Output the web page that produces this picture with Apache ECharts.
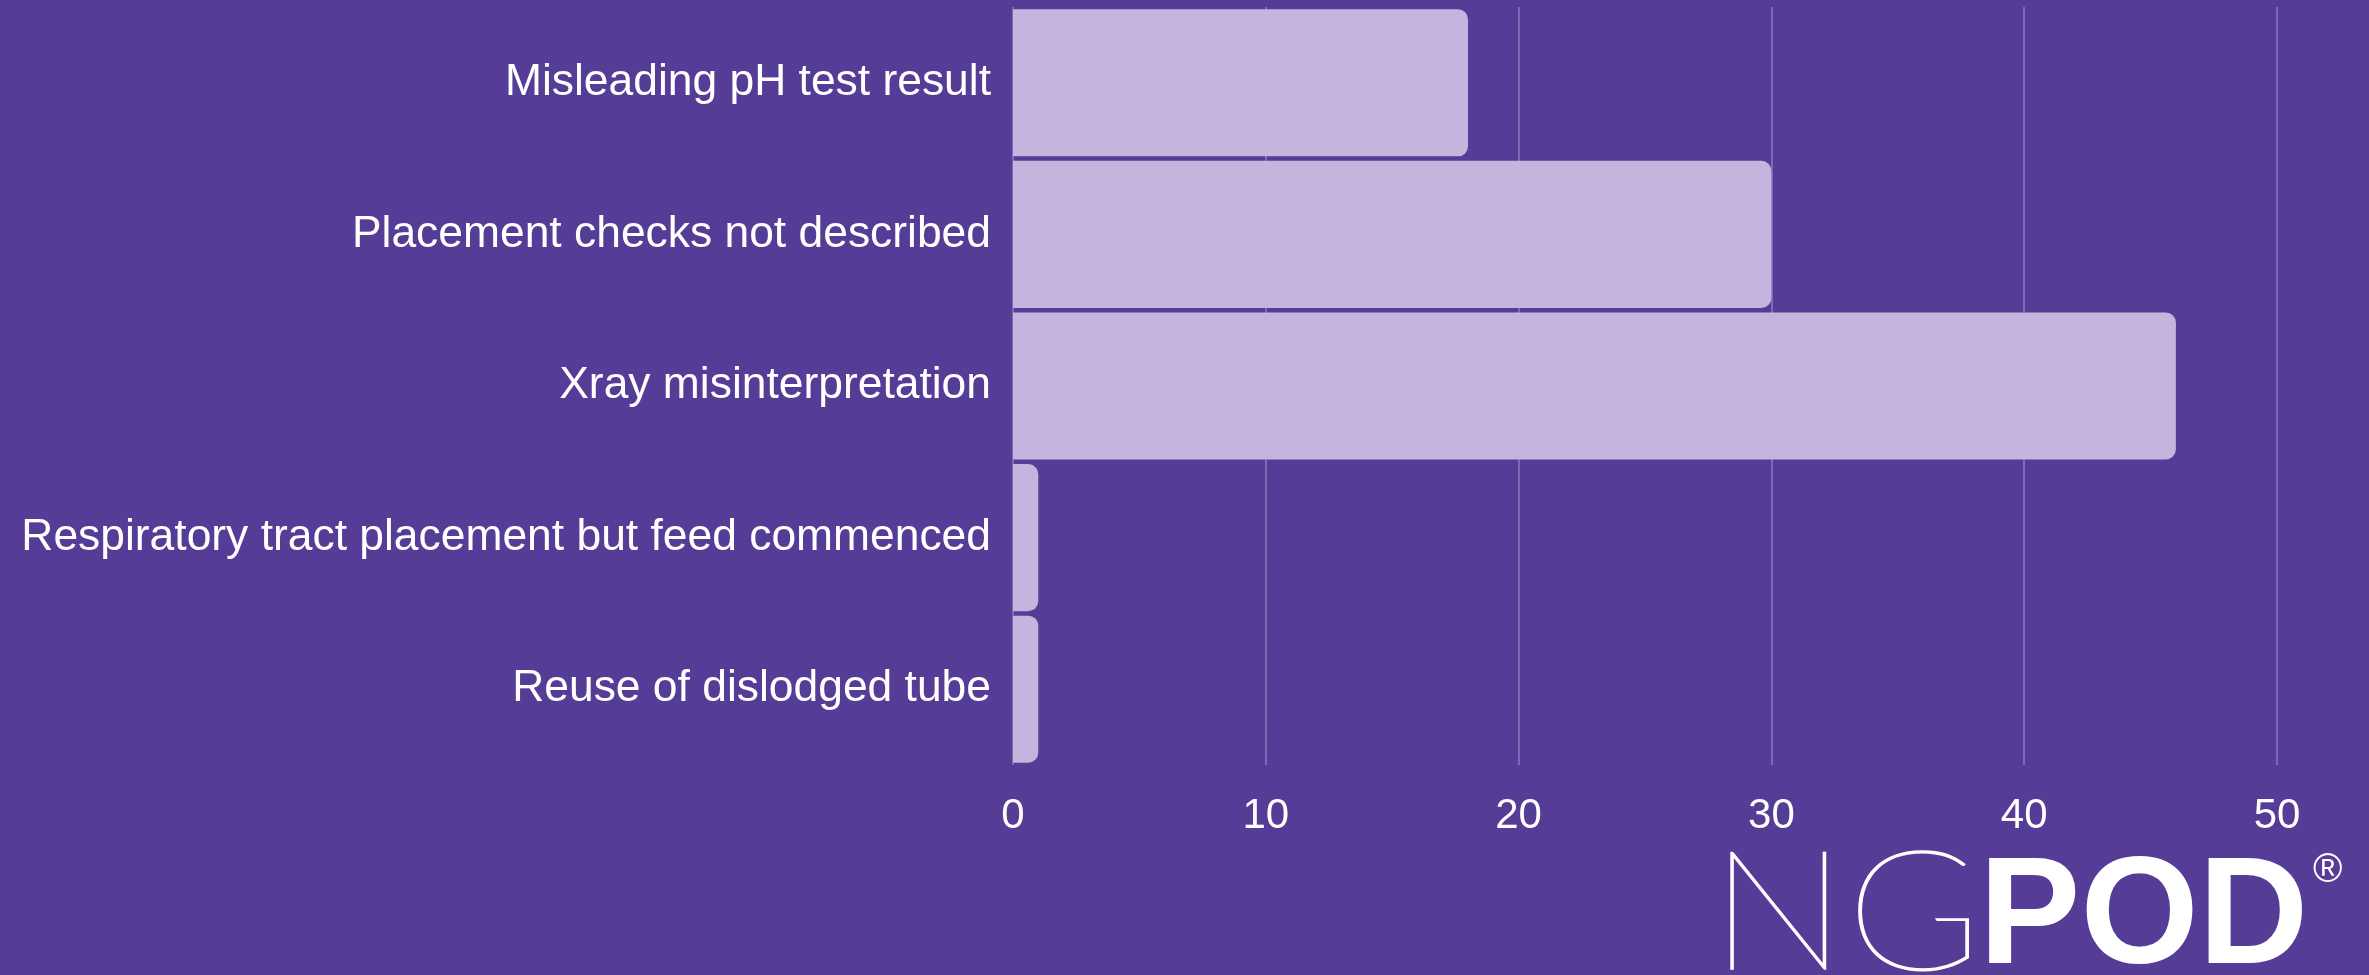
<!DOCTYPE html>
<html>
<head>
<meta charset="utf-8">
<script src="https://cdn.jsdelivr.net/npm/echarts@6/dist/echarts.min.js"></script>
<style>
  html, body { margin: 0; padding: 0; background: #553c96; }
  #main { width: 2369px; height: 975px; }
</style>
</head>
<body>
<div id="main"></div>
<script>
var categories = [
    'Misleading pH test result',
    'Placement checks not described',
    'Xray misinterpretation',
    'Respiratory tract placement but feed commenced',
    'Reuse of dislodged tube'
];
var counts = [18, 30, 46, 1, 1];
var xTicks = [0, 10, 20, 30, 40, 50];

var chartDom = document.getElementById('main');
var myChart = echarts.init(chartDom);
var option;

option = {
    backgroundColor: '#553c96',
    animation: false,
    grid: {
        left: 1013,
        right: 92,
        top: 7,
        bottom: 210
    },
    xAxis: {
        type: 'value',
        min: xTicks[0],
        max: xTicks[xTicks.length - 1],
        interval: 10,
        axisLine: { show: false },
        axisTick: { show: false },
        splitLine: { show: true, lineStyle: { color: '#7b6bb3', width: 2 } },
        axisLabel: {
            color: '#ffffff',
            fontSize: 42,
            fontFamily: 'Liberation Sans, Arial, sans-serif',
            margin: 30
        }
    },
    yAxis: {
        type: 'category',
        data: categories,
        inverse: true,
        axisLine: { show: false },
        axisTick: { show: false },
        axisLabel: {
            color: '#ffffff',
            fontSize: 44.4,
            fontFamily: 'Liberation Sans, Arial, sans-serif',
            margin: 22
        }
    },
    series: [
        {
            type: 'bar',
            data: counts,
            barCategoryGap: '3%',
            itemStyle: {
                color: '#c5b4de',
                borderRadius: [0, 10, 10, 0]
            }
        }
    ],
    graphic: [
        {
            type: 'text',
            x: 1710,
            y: 832,
            scaleX: 1.1,
            style: {
                text: 'NG',
                fill: '#ffffff',
                stroke: '#ffffff',
                lineWidth: 1.5,
                font: '100 166px Lato, Roboto, sans-serif'
            }
        },
        {
            type: 'text',
            left: 1979,
            top: 845,
            style: {
                text: 'POD',
                fill: '#ffffff',
                font: 'bold 152px "Liberation Sans", Arial, sans-serif'
            }
        },
        {
            type: 'text',
            left: 2313,
            top: 851,
            style: {
                text: '®',
                fill: '#ffffff',
                font: '40px "Liberation Sans", Arial, sans-serif'
            }
        }
    ]
};

option && myChart.setOption(option);
</script>
</body>
</html>
